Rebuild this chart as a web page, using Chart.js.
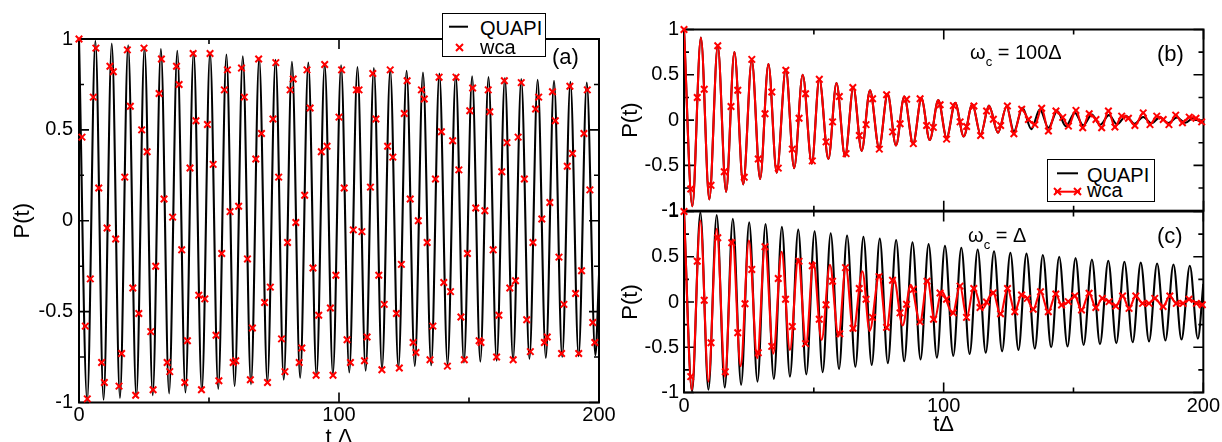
<!DOCTYPE html>
<html>
<head>
<meta charset="utf-8">
<script src="https://cdn.jsdelivr.net/npm/chart.js@4.4.1/dist/chart.umd.min.js"></script>
<style>
body { margin:0; background:#fff; width:1222px; height:442px; overflow:hidden; position:relative; font-family:"Liberation Sans", Arial, sans-serif; }
canvas { position:absolute; top:0; }
.lg { position:absolute; background:#fff; border:1.5px solid #000; box-sizing:border-box; }
.txt { position:absolute; font-size:20px; line-height:1; color:#000; white-space:nowrap; }
.sym { position:absolute; }
</style>
</head>
<body>
<canvas id="ca" width="620" height="442" style="left:0"></canvas>
<canvas id="cb" width="617" height="442" style="left:605px"></canvas>
<canvas id="cc" width="617" height="442" style="left:605px"></canvas>

<!-- legend (a) -->
<div class="lg" style="left:442px;top:13px;width:104px;height:44px"></div>
<svg class="sym" style="left:449px;top:20px" width="20" height="14"><line x1="0" y1="6.7" x2="19" y2="6.7" stroke="#000" stroke-width="2"/></svg>
<div class="txt" style="left:480px;top:18px">QUAPI</div>
<svg class="sym" style="left:454px;top:41.5px" width="11" height="11"><path d="M2,2L9,9M9,2L2,9" stroke="#f00" stroke-width="2"/></svg>
<div class="txt" style="left:480px;top:36.5px">wca</div>
<div class="txt" style="left:552px;top:46.3px;font-size:22px">(a)</div>

<!-- legend (b) -->
<div class="lg" style="left:1047px;top:159px;width:108px;height:43px"></div>
<svg class="sym" style="left:1057px;top:167px" width="22" height="12"><line x1="0" y1="6.3" x2="21" y2="6.3" stroke="#000" stroke-width="2"/></svg>
<div class="txt" style="left:1087px;top:164.8px">QUAPI</div>
<svg class="sym" style="left:1052px;top:186px" width="32" height="12"><line x1="3" y1="5.7" x2="28" y2="5.7" stroke="#f00" stroke-width="2"/><path d="M2,2L9,9M9,2L2,9M22,2L29,9M29,2L22,9" stroke="#f00" stroke-width="2"/></svg>
<div class="txt" style="left:1087px;top:179.8px">wca</div>

<div class="txt" style="left:1157px;top:42.9px;font-size:22px">(b)</div>
<div class="txt" style="left:1157px;top:224.6px;font-size:22px">(c)</div>
<div class="txt" style="left:970px;top:42.4px">ω<span style="font-size:13px;position:relative;top:7px">c</span> = 100Δ</div>
<div class="txt" style="left:968px;top:224.8px">ω<span style="font-size:13px;position:relative;top:7px">c</span> = Δ</div>

<script>
// -------------------- DATA --------------------
// (a) QUAPI: turning points of the black curve
const quapiA_t = [0, 3.15, 6.3, 9.45, 12.6, 15.75, 18.9, 22.05, 25.2, 28.35, 31.5, 34.65, 37.8, 40.95, 44.1, 47.25,
  50.4, 53.55, 56.7, 59.85, 63.0, 66.15, 69.3, 72.45, 75.6, 78.75, 81.9, 85.05, 88.2, 91.35, 94.5, 97.65,
  100.8, 103.95, 107.1, 110.25, 113.4, 116.55, 119.7, 122.85, 126.0, 129.15, 132.3, 135.45, 138.6, 141.75,
  144.9, 148.05, 151.2, 154.35, 157.5, 160.65, 163.8, 166.95, 170.1, 173.25, 176.4, 179.55, 182.7, 185.85,
  189.0, 192.15, 195.3, 198.6, 200];
const quapiA_p = [1, -0.99, 0.99, -0.985, 0.975, -0.975, 0.965, -0.97, 0.955, -0.96, 0.945, -0.95, 0.935, -0.945,
  0.93, -0.935, 0.925, -0.925, 0.915, -0.91, 0.905, -0.90, 0.895, -0.89, 0.885, -0.875, 0.875, -0.865, 0.87, -0.855,
  0.86, -0.845, 0.855, -0.835, 0.845, -0.825, 0.84, -0.815, 0.83, -0.81, 0.825, -0.80, 0.815, -0.795, 0.81, -0.79,
  0.80, -0.78, 0.795, -0.775, 0.79, -0.77, 0.785, -0.765, 0.78, -0.76, 0.775, -0.755, 0.77, -0.75, 0.765, -0.745,
  0.76, -0.74, -0.3];

// (a) wca markers
const wcaA_t = [0, 1.15, 2.44, 3.2, 4.36, 5.5, 6.5, 7.6, 8.7, 9.75,
  10.8, 11.9, 13.2, 14.1, 15.4, 16.4, 17.6, 18.6, 19.75, 20.7,
  21.8, 23.0, 24.1, 25.0, 26.2, 27.6, 28.5, 29.5, 30.8, 31.7,
  32.7, 33.9, 34.9, 36.0, 37.5, 38.5, 39.5, 40.7, 41.7, 42.7,
  43.9, 45.0, 46.05, 47.1, 48.4, 49.4, 50.4, 51.6, 52.7, 53.8,
  54.9, 55.9, 57.1, 58.1, 59.3, 60.3, 61.4, 62.5, 63.6, 64.8,
  65.9, 66.7, 68.0, 69.1, 70.2, 71.4, 72.5, 73.6, 74.6, 75.7,
  76.8, 77.9, 79.2, 80.2, 81.2, 82.4, 83.4, 84.7, 85.7, 86.8,
  87.7, 88.9, 90.0, 91.2, 92.2, 93.2, 94.5, 95.4, 96.7, 97.7,
  98.8, 100.0, 101.0, 102.0, 103.1, 104.4, 105.5, 106.7, 107.7, 108.8,
  109.8, 110.8, 112.1, 113.0, 114.2, 115.3, 116.5, 117.4, 118.7, 119.7,
  120.7, 122.1, 123.2, 124.0, 125.1, 126.2, 127.4, 128.5, 129.6, 130.5,
  131.7, 132.8, 133.9, 135.0, 136.1, 137.1, 138.5, 139.4, 140.3, 141.7,
  142.9, 143.7, 145.0, 146.1, 146.9, 148.2, 149.4, 150.3, 151.4, 152.6,
  153.9, 154.6, 156.1, 157.4, 158.0, 159.3, 160.6, 161.5, 162.6, 163.6,
  164.6, 165.7, 167.0, 167.9, 168.9, 170.1, 171.3, 172.2, 173.6, 174.6,
  175.6, 176.8, 178.0, 179.0, 180.1, 181.1, 182.1, 183.2, 184.6, 185.6,
  186.5, 187.8, 188.8, 189.8, 191.0, 192.2, 193.3, 194.2, 195.5, 196.5,
  197.6, 198.4];
const wcaA_p = [1.0, 0.46, -0.58, -0.98, -0.32, 0.68, 0.95, 0.18, -0.78, -0.89,
  -0.04, 0.85, 0.82, -0.10, -0.91, -0.73, 0.24, 0.94, 0.63, -0.37,
  -0.96, -0.51, 0.50, 0.95, 0.38, -0.61, -0.93, -0.25, 0.70, 0.89,
  0.12, -0.78, -0.83, 0.02, 0.85, 0.75, -0.16, -0.89, -0.66, 0.29,
  0.92, 0.55, -0.41, -0.93, -0.43, 0.53, 0.92, 0.31, -0.63, -0.88,
  -0.18, 0.72, 0.83, 0.05, -0.78, -0.77, 0.08, 0.84, 0.68, -0.21,
  -0.875, -0.59, 0.34, 0.89, 0.48, -0.45, -0.89, -0.365, 0.56, 0.87,
  0.24, -0.65, -0.83, -0.12, 0.72, 0.78, -0.01, -0.78, -0.70, 0.14,
  0.83, 0.62, -0.26, -0.85, -0.52, 0.38, 0.86, 0.41, -0.48, -0.85,
  -0.30, 0.57, 0.83, 0.18, -0.655, -0.78, -0.05, 0.72, 0.72, -0.06,
  -0.77, -0.64, 0.185, 0.81, 0.56, -0.30, -0.82, -0.46, 0.41, 0.83,
  0.35, -0.51, -0.81, -0.24, 0.59, 0.77, 0.12, -0.67, -0.725, 0.0,
  0.72, 0.67, -0.12, -0.765, -0.58, 0.23, 0.79, 0.49, -0.34, -0.80,
  -0.39, 0.44, 0.79, 0.28, -0.53, -0.765, -0.18, 0.605, 0.73, 0.07,
  -0.66, -0.67, 0.055, 0.72, 0.60, -0.16, -0.75, -0.52, 0.27, 0.77,
  0.43, -0.37, -0.765, -0.33, 0.46, 0.76, 0.23, -0.545, -0.72, -0.12,
  0.615, 0.68, 0.01, -0.67, -0.64, 0.10, 0.71, 0.55, -0.20, -0.73,
  -0.46, 0.30, 0.74, 0.37, -0.40, -0.73, -0.275, 0.48, 0.72, 0.17,
  -0.56, -0.67];

// (b) QUAPI turning points, wc = 100 Delta
const quapiB_t = [0, 3.2, 6.5, 9.75, 13.0, 16.2, 19.4, 22.8, 26.1, 29.3, 32.5, 35.7, 39.2, 42.4, 45.7, 49.2,
  52.1, 55.6, 58.7, 62.0, 65.2, 68.4, 71.6, 75.1, 78.4, 81.6, 84.8, 88.2, 91.4, 94.6, 97.9, 101.1, 104.4,
  107.7, 111.0, 114.2, 117.4, 120.9, 124.2, 127.0, 130.3, 133.7, 137.0, 140.3, 143.7, 147.0, 150.5, 153.7,
  157.0, 160.2, 163.6, 166.7, 170.2, 173.4, 176.8, 180.0, 183.2, 186.5, 189.8, 193.0, 196.2, 199.5, 200];
const quapiB_p = [1, -0.95, 0.91, -0.875, 0.82, -0.79, 0.75, -0.71, 0.66, -0.65, 0.62, -0.58, 0.56, -0.53, 0.50,
  -0.48, 0.455, -0.43, 0.41, -0.40, 0.36, -0.34, 0.33, -0.305, 0.29, -0.28, 0.26, -0.26, 0.24, -0.22, 0.22,
  -0.195, 0.19, -0.18, 0.175, -0.16, 0.16, -0.14, 0.15, -0.125, 0.135, -0.10, 0.12, -0.085, 0.10, -0.068, 0.08,
  -0.058, 0.06, -0.052, 0.055, -0.046, 0.045, -0.04, 0.035, -0.036, 0.03, -0.032, 0.028, -0.03, 0.026, -0.028, -0.027];
// (b) wca markers
const wcaB_t = [0, 2.6, 5.1, 7.8, 10.4, 13.0, 15.5, 18.1, 20.7, 23.2,
  26.1, 28.6, 31.2, 33.8, 36.3, 39.2, 41.7, 44.3, 46.8, 49.4,
  52.1, 54.7, 57.2, 59.8, 62.4, 65.0, 67.5, 70.1, 72.6, 75.2,
  78.0, 80.3, 83.2, 85.7, 88.3, 90.9, 93.4, 96.0, 98.6, 101.1,
  103.7, 106.3, 108.8, 111.6, 114.2, 116.5, 119.1, 121.9, 124.5, 127.0,
  130.0, 132.6, 135.1, 137.7, 140.3, 143.2, 145.8, 148.0, 150.9, 153.5,
  156.0, 158.6, 160.8, 163.4, 165.9, 168.5, 171.1, 173.6, 176.8, 179.4,
  182.0, 184.5, 186.7, 189.3, 191.9, 194.5, 197.1, 199.3];
const wcaB_p = [1, -0.76, 0.25, 0.34, -0.72, 0.82, -0.57, 0.15, 0.33, -0.63,
  0.67, -0.43, 0.07, 0.31, -0.53, 0.55, -0.32, 0.02, 0.29, -0.45,
  0.45, -0.24, -0.02, 0.26, -0.37, 0.36, -0.17, -0.05, 0.235, -0.32,
  0.28, -0.13, -0.04, 0.23, -0.26, 0.235, -0.06, -0.08, 0.17, -0.21,
  0.16, -0.02, -0.07, 0.155, -0.17, 0.10, 0.01, -0.06, 0.155, -0.15,
  0.12, 0.007, -0.05, 0.13, -0.12, 0.10, 0.03, -0.066, 0.107, -0.085,
  0.07, 0.007, -0.085, 0.10, -0.077, 0.044, 0.02, -0.06, 0.08, -0.05,
  0.044, 0.007, -0.05, 0.055, -0.03, 0.033, 0.02, -0.02];

// (c) QUAPI turning points, wc = Delta
const quapiC_t = [0, 3.1, 6.3, 9.4, 12.6, 15.7, 18.8, 22.0, 25.1, 28.3, 31.4, 34.6, 37.7, 40.8, 44.0, 47.1,
  50.3, 53.4, 56.5, 59.7, 62.8, 66.0, 69.1, 72.3, 75.4, 78.5, 81.7, 84.8, 88.0, 91.1, 94.2, 97.4, 100.5,
  103.7, 106.8, 110.0, 113.1, 116.2, 119.4, 122.5, 125.7, 128.8, 131.9, 135.1, 138.2, 141.4, 144.5, 147.7,
  150.8, 153.9, 157.1, 160.2, 163.4, 166.5, 169.6, 172.8, 175.9, 179.1, 182.2, 185.4, 188.5, 191.6, 194.8,
  197.9, 200];
const quapiC_p = [1, -0.99, 0.99, -0.97, 0.96, -0.945, 0.92, -0.915, 0.88, -0.88, 0.86, -0.85, 0.83, -0.825,
  0.80, -0.80, 0.78, -0.775, 0.76, -0.74, 0.735, -0.715, 0.72, -0.695, 0.70, -0.675, 0.685, -0.655, 0.66, -0.635,
  0.64, -0.615, 0.62, -0.595, 0.60, -0.575, 0.58, -0.56, 0.56, -0.545, 0.545, -0.53, 0.535, -0.515, 0.52, -0.50,
  0.50, -0.49, 0.485, -0.475, 0.47, -0.465, 0.455, -0.455, 0.445, -0.445, 0.435, -0.435, 0.425, -0.425, 0.415,
  -0.415, 0.40, -0.405, 0.2];
// (c) wca line turning points (early part, where the red curve is smooth)
const wcaCLine_t = [0, 3.0, 6.3, 9.4, 12.6, 15.8, 18.7, 21.8, 25.0, 28.2,
  31.2, 34.4, 37.6, 40.8, 44.0, 47.0, 49.8, 53.0, 56.2, 59.5,
  62.3, 65.2, 68.7, 71.5, 75.2, 78.0, 80.8, 84.2, 87.3, 90.9,
  93.8, 96.5, 99.2, 103.5, 106.3, 108.9, 111.6, 114.8, 119.0, 121.9, 124.6];
const wcaCLine_p = [1, -0.97, 0.90, -0.88, 0.81, -0.825, 0.69, -0.71, 0.68, -0.62,
  0.62, -0.57, 0.555, -0.53, 0.48, -0.46, 0.445, -0.42, 0.41, -0.38,
  0.39, -0.32, 0.34, -0.32, 0.30, -0.30, 0.26, -0.26, 0.19, -0.22,
  0.24, -0.20, 0.12, -0.13, 0.18, -0.17, 0.16, -0.08, 0.11, -0.14, 0.15];
// (c) wca markers
const wcaC_t = [0, 2.6, 5.1, 7.8, 10.4, 13.0, 15.9, 18.4, 20.7, 23.5,
  26.1, 28.6, 31.2, 33.8, 36.3, 39.1, 41.7, 44.3, 46.8, 49.4,
  52.1, 54.7, 57.2, 60.0, 62.2, 65.1, 67.5, 70.1, 72.6, 75.1,
  78.0, 80.3, 83.2, 85.7, 88.3, 90.9, 93.6, 96.1, 98.6, 101.1,
  103.7, 106.3, 108.8, 111.6, 114.0, 116.5, 119.1, 121.9, 124.6, 127.4,
  130.0, 132.2, 134.5, 137.3, 140.3, 143.2, 145.4, 148.0, 150.5, 153.1,
  156.0, 158.6, 161.1, 163.7, 166.3, 168.9, 171.4, 174.0, 176.6, 179.1,
  181.3, 184.5, 187.1, 189.6, 192.2, 194.5, 197.3, 199.6];
const wcaC_p = [1, -0.825, 0.45, 0.02, -0.45, 0.71, -0.77, 0.655, -0.34, -0.02,
  0.36, -0.56, 0.61, -0.49, 0.26, 0.03, -0.27, 0.45, -0.46, 0.40,
  -0.19, -0.03, 0.23, -0.35, 0.38, -0.29, 0.15, 0.03, -0.17, 0.28,
  -0.28, 0.24, -0.12, -0.025, 0.14, -0.22, 0.23, -0.19, 0.10, 0.03,
  -0.12, 0.175, -0.17, 0.15, -0.06, 0.0, 0.10, -0.13, 0.15, -0.107,
  0.077, 0.04, -0.08, 0.114, -0.107, 0.088, -0.033, 0.004, 0.066, -0.088,
  0.096, -0.06, 0.04, 0.004, -0.044, 0.066, -0.07, 0.066, -0.015, -0.015,
  0.04, -0.05, 0.066, -0.015, -0.015, 0.03, -0.015, -0.03];

// axis ticks
const xMajor = [0, 100, 200];
const xMinor = [50, 150];
const yMajor = [-1, -0.5, 0, 0.5, 1];
const yMinor = [-0.75, -0.25, 0.25, 0.75];

// -------------------- HELPERS --------------------
Chart.defaults.font.family = '"Liberation Sans", Arial, sans-serif';
Chart.defaults.color = '#000';

function pts(ts, ps) {
  return ts.map((t, i) => ({x: t, y: ps[i]}));
}

function curve(points, color, width) {
  return {
    data: points,
    borderColor: color,
    borderWidth: width,
    pointRadius: 0,
    cubicInterpolationMode: 'monotone',
    fill: false
  };
}

function crosses(points) {
  return {
    data: points,
    showLine: false,
    pointStyle: 'crossRot',
    pointRadius: 4.6,
    pointBorderColor: '#f00',
    pointBackgroundColor: '#f00',
    pointBorderWidth: 2,
    clip: false
  };
}

// frame plus inward tick marks on all four sides
const frameTicks = {
  id: 'frameTicks',
  beforeDatasetsDraw(chart) {
    const {ctx, chartArea: a, scales} = chart;
    ctx.save();
    ctx.strokeStyle = '#000';
    ctx.lineWidth = 2;
    ctx.strokeRect(a.left, a.top, a.right - a.left, a.bottom - a.top);
    ctx.lineWidth = 1.6;
    ctx.beginPath();
    const xt = (v, len) => {
      const px = scales.x.getPixelForValue(v);
      ctx.moveTo(px, a.bottom); ctx.lineTo(px, a.bottom - len);
      ctx.moveTo(px, a.top); ctx.lineTo(px, a.top + len);
    };
    const yt = (v, len) => {
      const py = scales.y.getPixelForValue(v);
      ctx.moveTo(a.left, py); ctx.lineTo(a.left + len, py);
      ctx.moveTo(a.right, py); ctx.lineTo(a.right - len, py);
    };
    xMajor.forEach(v => xt(v, 10));
    xMinor.forEach(v => xt(v, 5));
    yMajor.forEach(v => yt(v, 10));
    yMinor.forEach(v => yt(v, 5));
    ctx.stroke();
    ctx.restore();
  }
};

function makeChart(id, datasets, o) {
  return new Chart(document.getElementById(id), {
    type: 'line',
    data: { datasets: datasets },
    options: {
      responsive: false,
      animation: false,
      events: [],
      devicePixelRatio: 1,
      layout: { padding: { top: o.top, right: o.right, left: 0, bottom: 0 } },
      plugins: { legend: { display: false }, tooltip: { enabled: false } },
      scales: {
        x: {
          type: 'linear', min: 0, max: 200,
          afterFit: s => { s.height = o.xh; },
          grid: { display: false, drawTicks: false },
          border: { display: false },
          ticks: { display: o.xLabels, stepSize: 100, padding: o.xpad, font: { size: 20 }, color: '#000', maxRotation: 0 },
          title: { display: !!o.xTitle, text: o.xTitle || '', font: { size: 22, lineHeight: 1 }, color: '#000', padding: { top: 0, bottom: o.xtpad } }
        },
        y: {
          type: 'linear', min: -1, max: 1,
          afterFit: s => { s.width = 79; },
          grid: { display: false, drawTicks: false },
          border: { display: false },
          ticks: { stepSize: 0.5, padding: o.ypad, font: { size: 20 }, color: '#000', callback: v => String(v) },
          title: { display: true, text: 'P(t)', font: { size: 22, lineHeight: 1 }, color: '#000', padding: { top: o.ytpad, bottom: 0 } }
        }
      }
    },
    plugins: [frameTicks]
  });
}

// -------------------- CHARTS --------------------
// (a)
makeChart('ca', [
  crosses(pts(wcaA_t, wcaA_p)),
  curve(pts(quapiA_t, quapiA_p), '#000', 2.1)
], { top: 39, right: 21, xh: 39.5, xLabels: true, xpad: 1, xTitle: 't Δ', xtpad: -7, ypad: 6, ytpad: 12 });

// (b): red line follows the turning points early on, then the markers
const wcaBLine = pts(quapiB_t, quapiB_p).filter(p => p.x < 125)
  .concat(pts(wcaB_t, wcaB_p).filter(p => p.x > 125));
makeChart('cb', [
  crosses(pts(wcaB_t, wcaB_p)),
  curve(wcaBLine, '#f00', 2.1),
  curve(pts(quapiB_t, quapiB_p), '#000', 2.1)
], { top: 29.5, right: 18.5, xh: 231.3, xLabels: false, xpad: 0, xTitle: '', xtpad: 0, ypad: 5, ytpad: 15 });

// (c)
const wcaCLine = pts(wcaCLine_t, wcaCLine_p)
  .concat(pts(wcaC_t, wcaC_p).filter(p => p.x > 125));
makeChart('cc', [
  crosses(pts(wcaC_t, wcaC_p)),
  curve(wcaCLine, '#f00', 2.1),
  curve(pts(quapiC_t, quapiC_p), '#000', 2.1)
], { top: 211.5, right: 18.5, xh: 49.5, xLabels: true, xpad: 2, xTitle: 'tΔ', xtpad: 6, ypad: 5, ytpad: 15 });
</script>
</body>
</html>
